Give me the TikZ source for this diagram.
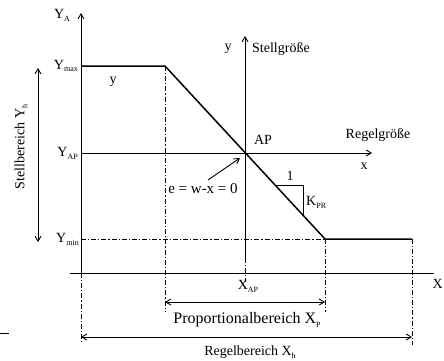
\documentclass[tikz,border=0pt]{standalone}
\usepackage{fontspec}
\setmainfont{Liberation Serif}
\usetikzlibrary{arrows.meta}
\newcommand\lsub[1]{\raisebox{-0.45ex}{\fontsize{8}{9}\selectfont #1}}
\begin{document}
\begin{tikzpicture}[x=1pt,y=-1pt,
  lbl/.style={inner sep=1pt, font=\fontsize{14}{16}\selectfont},
  axis/.style={line width=0.9pt},
  curve/.style={line width=1.5pt},
  dd/.style={line width=0.9pt, dash pattern=on 5pt off 2pt on 1.2pt off 2pt},
  arr/.style={-{Straight Barb[length=5pt,width=6pt]}},
  darr/.style={{Straight Barb[length=5pt,width=6pt]}-{Straight Barb[length=5pt,width=6pt]}}]
\useasboundingbox (0,0) rectangle (444,360);
% points
\coordinate (yatop) at (81,13);
\coordinate (yabot) at (81,273);
\coordinate (yalow) at (81,343);
\coordinate (ymax) at (81,66);
\coordinate (k1) at (165,66);
\coordinate (k2) at (325,239);
\coordinate (kend) at (412,239);
\coordinate (ymin) at (81,239);
\coordinate (yap) at (81,153);
\coordinate (ap) at (245,153);
\coordinate (xright) at (372,153);
\coordinate (xaxl) at (70,273);
\coordinate (xaxr) at (434,273);
\coordinate (ytop) at (245,36);
\coordinate (ybot) at (245,258);
\coordinate (ytick) at (245,282);
\coordinate (k1low) at (165,312);
\coordinate (k2low) at (325,312);
\coordinate (kendlow) at (412,345);
\coordinate (pl) at (165,302);
\coordinate (pr) at (325,302);
\coordinate (rl) at (81,337);
\coordinate (rr) at (412,337);
\coordinate (sbt) at (38,68);
\coordinate (sbb) at (38,242);
\coordinate (t1) at (275,185);
\coordinate (t2) at (303,185);
\coordinate (t3) at (303,215);
\coordinate (eA) at (208,180);
\coordinate (mk1) at (0,333);
\coordinate (mk2) at (9,333);
% axes
\draw[axis,arr] (yabot) -- (yatop);
\draw[dd] (yabot) -- (yalow);
\draw[axis] (xaxl) -- (xaxr);
\draw[axis,arr] (ybot) -- (ytop);
\draw[dd] (ybot) -- (ytick);
\draw[axis,arr] (yap) -- (xright);
% characteristic
\draw[curve] (ymax) -- (k1) -- (k2) -- (kend);
% dash-dot helpers
\draw[dd] (ymin) -- (k2);
\draw[dd] (k1) -- (k1low);
\draw[dd] (k2) -- (k2low);
\draw[dd] (kend) -- (kendlow);
% ranges
\draw[axis,darr] (pl) -- (pr);
\draw[axis,darr] (rl) -- (rr);
\draw[axis,darr] (sbt) -- (sbb);
% slope triangle
\draw[axis] (t1) -- (t2) -- (t3);
% e arrow
\draw[axis,arr] (eA) -- ([shift={(-5pt,-5pt)}]ap);
\draw[axis] (mk1) -- (mk2);
% labels
\node[lbl] (lYA) at (62,15) {Y\lsub{A}};
\node[lbl,anchor=east] (lYmax) at (79,66) {Y\lsub{max}};
\node[lbl,anchor=east] (lYap) at (79,153) {Y\lsub{AP}};
\node[lbl,anchor=east] (lYmin) at (80,239) {Y\lsub{min}};
\node[lbl] (ly1) at (113,82) {y};
\node[lbl] (ly2) at (228,49) {y};
\node[lbl,anchor=west] (lStell) at (251,49) {Stellgröße};
\node[lbl] (lAP) at (263,140) {AP};
\node[lbl] (lRegel) at (378,135) {Regelgröße};
\node[lbl] (lx) at (364,166) {x};
\node[lbl,font=\fontsize{15}{17}\selectfont] (le) at (203,189) {e = w-x = 0};
\node[lbl] (l1) at (290,176) {1};
\node[lbl,anchor=west] (lK) at (305,202) {K\lsub{PR}};
\node[lbl] (lXAP) at (248,286) {X\lsub{AP}};
\node[lbl,anchor=east] (lX) at (444,284) {X};
\node[lbl,font=\fontsize{16}{18}\selectfont] (lProp) at (247,320) {Proportionalbereich X\lsub{P}};
\node[lbl] (lRb) at (250,352) {Regelbereich X\lsub{h}};
\node[lbl,rotate=90] (lSb) at (21,147) {Stellbereich Y\lsub{h}};
\end{tikzpicture}
\end{document}
